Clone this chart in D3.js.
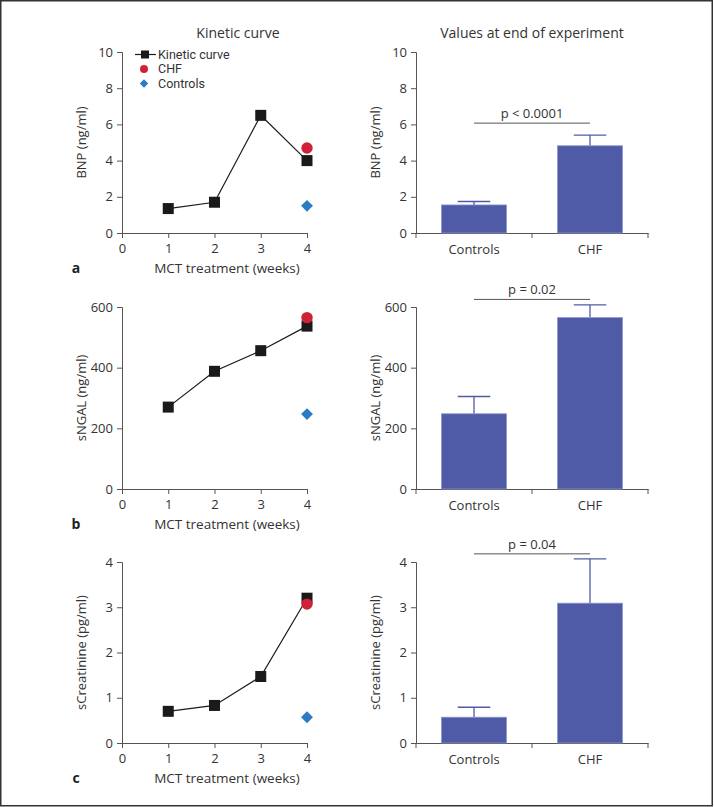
<!DOCTYPE html>
<html><head><meta charset="utf-8">
<script src="https://cdn.jsdelivr.net/npm/d3@7"></script>
<style>
body{margin:0;background:#fff;}
svg{display:block;font-family:"Open Sans","Noto Sans",sans-serif;}
</style></head>
<body><svg id="chart" width="714" height="807"></svg>
<script>
// ---------- data ----------
const weeks = [1, 2, 3, 4];
const weekTicks = [0, 1, 2, 3, 4];
const groups = ["Controls", "CHF"];
const panelLetters = ["a", "b", "c"];
const yLabels = ["BNP (ng/ml)", "sNGAL (ng/ml)", "sCreatinine (pg/ml)"];
const yMax = [10, 600, 4];
const yTicks = [[0, 2, 4, 6, 8, 10], [0, 200, 400, 600], [0, 1, 2, 3, 4]];
const kinetic = [[1.35, 1.7, 6.5, 4.0], [270, 388, 456, 537], [0.70, 0.83, 1.47, 3.2]];
const chfPoint = [4.7, 565, 3.07];
const controlPoint = [1.5, 247, 0.57];
const barMeans = [[1.55, 4.82], [248, 565], [0.57, 3.09]];
const barErrTop = [[1.74, 5.41], [305, 607], [0.79, 4.07]];
const pTexts = ["p < 0.0001", "p = 0.02", "p = 0.04"];
const pLineValue = [6.07, 625, 4.18];
const legendItems = ["Kinetic curve", "CHF", "Controls"];

// ---------- layout ----------
const svg = d3.select("#chart");
const textColor = "#333", axisColor = "#555";
const red = "#cf2236", blue = "#2b7bc3", barFill = "#4f5ba6";
const rows = [{top: 52, bottom: 233}, {top: 307, bottom: 489}, {top: 562, bottom: 743}];
const leftX = [122, 307], rightX = [416, 648];

svg.append("rect").attr("x", 0.75).attr("y", 0.75).attr("width", 711.5).attr("height", 805)
  .attr("fill", "none").attr("stroke", "#333").attr("stroke-width", 1.5);

svg.append("text").attr("x", 238).attr("y", 38).attr("text-anchor", "middle")
  .attr("font-size", 14).attr("fill", textColor).text("Kinetic curve");
svg.append("text").attr("x", 532).attr("y", 38).attr("text-anchor", "middle")
  .attr("font-size", 14).attr("fill", textColor).text("Values at end of experiment");

function styleAxis(g) {
  g.select(".domain").attr("stroke", axisColor);
  g.selectAll(".tick line").attr("stroke", axisColor);
  g.selectAll(".tick text").attr("fill", textColor).attr("font-size", 13);
  g.attr("font-family", null);
}

rows.forEach((r, i) => {
  const y = d3.scaleLinear().domain([0, yMax[i]]).range([r.bottom, r.top]);
  // ---- left kinetic panel ----
  const x = d3.scaleLinear().domain([0, 4]).range(leftX);
  const gL = svg.append("g");
  gL.append("g").attr("transform", `translate(0,${r.bottom})`)
    .call(d3.axisBottom(x).tickValues(weekTicks).tickFormat(d3.format("d")).tickSize(5).tickPadding(6))
    .call(styleAxis);
  gL.append("g").attr("transform", `translate(${leftX[0]},0)`)
    .call(d3.axisLeft(y).tickValues(yTicks[i]).tickFormat(d3.format("d")).tickSize(5).tickPadding(4))
    .call(styleAxis);
  gL.append("text").attr("transform", `translate(${81},${(r.top + r.bottom) / 2}) rotate(-90)`)
    .attr("text-anchor", "middle").attr("dy", "0.35em").attr("font-size", 13).attr("fill", textColor)
    .text(yLabels[i]);
  gL.append("text").attr("x", 227).attr("y", r.bottom + 40).attr("text-anchor", "middle")
    .attr("font-size", 13.5).attr("fill", textColor).text("MCT treatment (weeks)");
  gL.append("text").attr("x", 76).attr("y", r.bottom + 40).attr("text-anchor", "middle")
    .attr("font-size", 14).attr("font-weight", "bold").attr("fill", "#222").text(panelLetters[i]);

  const pts = weeks.map((w, k) => [w, kinetic[i][k]]);
  gL.append("path").datum(pts)
    .attr("d", d3.line().x(d => x(d[0])).y(d => y(d[1])))
    .attr("fill", "none").attr("stroke", "#1a1a1a").attr("stroke-width", 1.2);
  gL.selectAll("rect.sq").data(pts).join("rect").attr("class", "sq")
    .attr("x", d => x(d[0]) - 5.5).attr("y", d => y(d[1]) - 5.5)
    .attr("width", 11).attr("height", 11).attr("fill", "#1a1a1a");
  gL.append("path").attr("d", d3.symbol(d3.symbolDiamond2, 90)())
    .attr("transform", `translate(${x(4)},${y(controlPoint[i])})`).attr("fill", blue);
  gL.append("circle").attr("cx", x(4)).attr("cy", y(chfPoint[i])).attr("r", 5.7).attr("fill", red);

  // ---- right bar panel ----
  const xb = d3.scaleBand().domain(groups).range(rightX).padding(0);
  const barW = xb.bandwidth() * 0.56;
  const gR = svg.append("g");
  gR.append("g").attr("transform", `translate(0,${r.bottom})`)
    .call(d3.axisBottom(xb).tickSize(0).tickPadding(12)).call(styleAxis);
  const bounds = [xb(groups[0]), ...groups.map(g => xb(g) + xb.bandwidth())];
  gR.selectAll("line.bt").data(bounds).join("line").attr("class", "bt")
    .attr("x1", d => d).attr("x2", d => d).attr("y1", r.bottom).attr("y2", r.bottom + 5)
    .attr("stroke", axisColor);
  gR.append("g").attr("transform", `translate(${rightX[0]},0)`)
    .call(d3.axisLeft(y).tickValues(yTicks[i]).tickFormat(d3.format("d")).tickSize(5).tickPadding(4))
    .call(styleAxis);
  gR.append("text").attr("transform", `translate(${375},${(r.top + r.bottom) / 2}) rotate(-90)`)
    .attr("text-anchor", "middle").attr("dy", "0.35em").attr("font-size", 13).attr("fill", textColor)
    .text(yLabels[i]);

  const cx = g => xb(g) + xb.bandwidth() / 2;
  // error bars
  gR.selectAll("line.ev").data(groups).join("line").attr("class", "ev")
    .attr("x1", g => cx(g)).attr("x2", g => cx(g))
    .attr("y1", (g, k) => y(barMeans[i][k])).attr("y2", (g, k) => y(barErrTop[i][k]))
    .attr("stroke", barFill).attr("stroke-width", 1.3);
  gR.selectAll("line.ec").data(groups).join("line").attr("class", "ec")
    .attr("x1", g => cx(g) - barW / 4).attr("x2", g => cx(g) + barW / 4)
    .attr("y1", (g, k) => y(barErrTop[i][k])).attr("y2", (g, k) => y(barErrTop[i][k]))
    .attr("stroke", barFill).attr("stroke-width", 1.3);
  gR.selectAll("rect.bar").data(groups).join("rect").attr("class", "bar")
    .attr("x", g => cx(g) - barW / 2).attr("width", barW)
    .attr("y", (g, k) => y(barMeans[i][k])).attr("height", (g, k) => r.bottom - y(barMeans[i][k]))
    .attr("fill", barFill).attr("stroke", "#8e96cc").attr("stroke-width", 0.8);
  // significance
  const py = y(pLineValue[i]);
  gR.append("line").attr("x1", cx(groups[0])).attr("x2", cx(groups[1]))
    .attr("y1", py).attr("y2", py).attr("stroke", axisColor).attr("stroke-width", 1);
  gR.append("text").attr("x", (cx(groups[0]) + cx(groups[1])) / 2).attr("y", py - 5)
    .attr("text-anchor", "middle").attr("font-size", 13).attr("fill", textColor).text(pTexts[i]);
});

// ---------- legend ----------
const lg = svg.append("g");
const ly = [54.5, 69, 83.5];
lg.append("line").attr("x1", 135).attr("x2", 156).attr("y1", ly[0]).attr("y2", ly[0])
  .attr("stroke", "#1a1a1a").attr("stroke-width", 1.2);
lg.append("rect").attr("x", 141).attr("y", ly[0] - 4).attr("width", 8).attr("height", 8).attr("fill", "#1a1a1a");
lg.append("circle").attr("cx", 144).attr("cy", ly[1]).attr("r", 4).attr("fill", red);
lg.append("path").attr("d", d3.symbol(d3.symbolDiamond2, 45)()).attr("transform", `translate(144,${ly[2]})`).attr("fill", blue);
lg.selectAll("text").data(legendItems).join("text")
  .attr("x", 158).attr("y", (d, k) => ly[k]).attr("dy", "0.35em")
  .attr("font-family", "Roboto, sans-serif")
  .attr("font-size", 12.5).attr("fill", textColor).text(d => d);
</script></body></html>
